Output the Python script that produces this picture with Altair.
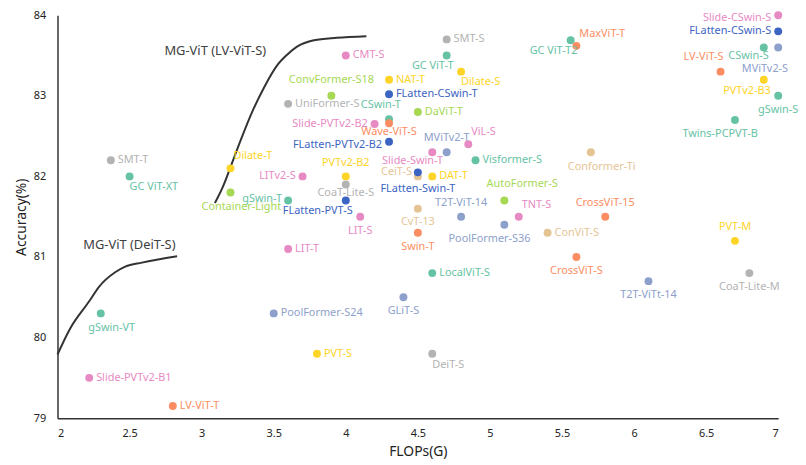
import altair as alt
import pandas as pd

# ---- data ----
names = [
    # teal
    "GC ViT-T", "CSwin-T", "Visformer-S", "gSwin-T", "LocalViT-S", "GC ViT-XT", "gSwin-VT",
    "GC ViT-T2", "CSwin-S", "gSwin-S", "Twins-PCPVT-B",
    # pink
    "CMT-S", "Slide-PVTv2-B2", "ViL-S", "Slide-Swin-T", "LITv2-S", "LIT-S", "TNT-S", "LIT-T",
    "Slide-PVTv2-B1", "Slide-CSwin-S",
    # blue-purple
    "MViTv2-T", "T2T-ViT-14", "PoolFormer-S36", "GLiT-S", "PoolFormer-S24", "MViTv2-S", "T2T-ViTt-14",
    # lime
    "ConvFormer-S18", "DaViT-T", "AutoFormer-S", "Container-Light",
    # yellow
    "NAT-T", "Dilate-S", "PVTv2-B2", "DAT-T", "Dilate-T", "PVT-S", "PVTv2-B3", "PVT-M",
    # tan
    "CeiT-S", "CvT-13", "Conformer-Ti", "ConViT-S",
    # gray
    "SMT-S", "UniFormer-S", "CoaT-Lite-S", "SMT-T", "DeiT-S", "CoaT-Lite-M",
    # orange
    "Wave-ViT-S", "Swin-T", "MaxViT-T", "LV-ViT-S", "CrossViT-15", "CrossViT-S", "LV-ViT-T",
    # dark blue
    "FLatten-CSwin-T", "FLatten-PVTv2-B2", "FLatten-Swin-T", "FLatten-PVT-S", "FLatten-CSwin-S",
]
flops = [
    4.7, 4.3, 4.9, 3.6, 4.6, 2.5, 2.3, 5.56, 6.9, 7.0, 6.7,
    4.0, 4.2, 4.85, 4.6, 3.7, 4.1, 5.2, 3.6, 2.22, 7.0,
    4.7, 4.8, 5.1, 4.4, 3.5, 7.0, 6.1,
    3.9, 4.5, 5.1, 3.2,
    4.3, 4.8, 4.0, 4.6, 3.2, 3.8, 6.9, 6.7,
    4.5, 4.5, 5.7, 5.4,
    4.7, 3.6, 4.0, 2.37, 4.6, 6.8,
    4.3, 4.5, 5.6, 6.6, 5.8, 5.6, 2.8,
    4.3, 4.3, 4.5, 4.0, 7.0,
]
accuracy = [
    83.5, 82.71, 82.2, 81.7, 80.8, 82.0, 80.3, 83.69, 83.6, 83.0, 82.7,
    83.5, 82.65, 82.4, 82.3, 82.0, 81.5, 81.5, 81.1, 79.5, 84.0,
    82.3, 81.5, 81.4, 80.5, 80.3, 83.6, 80.7,
    83.0, 82.8, 81.7, 81.8,
    83.2, 83.3, 82.0, 82.0, 82.1, 79.8, 83.2, 81.2,
    82.0, 81.6, 82.3, 81.3,
    83.7, 82.9, 81.9, 82.2, 79.8, 80.8,
    82.66, 81.3, 83.62, 83.3, 81.5, 81.0, 79.15,
    83.02, 82.43, 82.05, 81.7, 83.8,
]
groups = (["teal"] * 11 + ["pink"] * 10 + ["slate"] * 7 + ["lime"] * 4 + ["yellow"] * 8
          + ["tan"] * 4 + ["gray"] * 6 + ["orange"] * 7 + ["blue"] * 5)
# where each label sits relative to its dot (r=right, l=left, b=below, t=above, ...)
label_pos = [
    "bl", "tlR", "r", "lu", "r", "br", "bR", "bl", "bl9", "b", "bL",
    "r", "l", "tr", "bl9R", "l", "b", "tr", "r", "r", "ld",
    "t", "t", "bL", "b", "r", "bl2", "b",
    "t2", "r", "tR", "bR",
    "r", "br", "t", "r", "tr", "r", "bl", "t",
    "lu5", "b", "bR", "r",
    "r", "r", "bs", "r", "br", "b",
    "bs", "b", "tr", "tl", "t", "b", "r",
    "r", "ld", "bf", "bl", "l",
]

group_names = ["teal", "pink", "slate", "lime", "yellow", "tan", "gray", "orange", "blue"]
group_colors = ["#66c2a5", "#e78ac3", "#8da0cb", "#a6d854", "#fdd427", "#e5c494", "#b3b3b3", "#fc8d62", "#3b64c3"]

# MG-ViT curves
lv_x = [3.092, 3.147, 3.195, 3.271, 3.353, 3.435, 3.525, 3.593, 3.662, 3.779, 3.937, 4.143]
lv_y = [81.67, 81.87, 82.09, 82.45, 82.81, 83.11, 83.38, 83.51, 83.61, 83.69, 83.72, 83.74]
deit_x = [2.0, 2.087, 2.22, 2.288, 2.40, 2.47, 2.586, 2.83]
deit_y = [79.79, 80.11, 80.45, 80.63, 80.81, 80.88, 80.93, 81.01]

curve_labels = ["MG-ViT (LV-ViT-S)", "MG-ViT (DeiT-S)"]
curve_label_x = [2.742, 2.179]
curve_label_y = [83.55, 81.15]

x_ticks = [2, 2.5, 3, 3.5, 4, 4.5, 5, 5.5, 6, 6.5, 7]
y_ticks = [79, 80, 81, 82, 83, 84]

# ---- chart ----
df = pd.DataFrame({"name": names, "flops": flops, "acc": accuracy, "group": groups, "pos": label_pos})
curves = pd.concat([
    pd.DataFrame({"flops": lv_x, "acc": lv_y, "curve": "lv"}),
    pd.DataFrame({"flops": deit_x, "acc": deit_y, "curve": "deit"}),
])
cl = pd.DataFrame({"label": curve_labels, "flops": curve_label_x, "acc": curve_label_y})

FONT = "Noto Sans"
xs = alt.Scale(domain=[2, 7], nice=False, zero=False)
ys = alt.Scale(domain=[79, 84], nice=False, zero=False)
X = alt.X("flops:Q", scale=xs, axis=alt.Axis(values=x_ticks, format="~g", title="FLOPs(G)",
                                              grid=False, ticks=False, labelPadding=10, titlePadding=6))
Y = alt.Y("acc:Q", scale=ys, axis=alt.Axis(values=y_ticks, format="d", title="Accuracy(%)",
                                            grid=False, ticks=False, labelPadding=12, titlePadding=5))
C = alt.Color("group:N", scale=alt.Scale(domain=group_names, range=group_colors), legend=None)

lines = alt.Chart(curves).mark_line(color="#333333", strokeWidth=2, interpolate="monotone").encode(
    x=X, y=Y, detail="curve:N", order="flops:Q")

curve_text = alt.Chart(cl).mark_text(align="left", font=FONT, fontSize=13, color="#404040").encode(
    x="flops:Q", y="acc:Q", text="label:N")

points = alt.Chart(df).mark_circle(size=64, opacity=1).encode(x="flops:Q", y="acc:Q", color=C)

placements = {
    "r": ("left", 7, 0),
    "l": ("right", -7, 0),
    "lu": ("right", -6, -2),
    "lu5": ("right", -6, -4),
    "ld": ("right", -7, 3),
    "b": ("center", 0, 14),
    "bs": ("center", 0, 9),
    "bf": ("center", 0, 17),
    "bR": ("center", 11, 15),
    "bL": ("center", -15, 14),
    "t": ("center", 0, -14),
    "t2": ("center", 0, -16),
    "tR": ("center", 18, -17),
    "br": ("left", 0, 11),
    "bl": ("right", 7, 11),
    "bl9": ("right", 5, 9),
    "bl9R": ("right", 11, 9),
    "bl2": ("right", 10, 22),
    "tr": ("left", 3, -12),
    "tl": ("right", 3, -15),
    "tlR": ("right", 12, -14),
}
text_layers = []
for code, (al, dx, dy) in placements.items():
    text_layers.append(
        alt.Chart(df).transform_filter(alt.datum.pos == code)
        .mark_text(align=al, dx=dx, dy=dy, font=FONT, fontSize=11)
        .encode(x="flops:Q", y="acc:Q", text="name:N", color=C)
    )

chart = alt.layer(lines, curve_text, points, *text_layers).properties(
    width=728, height=407,
    autosize=alt.AutoSizeParams(type="none"),
    padding={"left": 50, "top": 5, "right": 20, "bottom": 43},
).configure_view(stroke=None).configure_axis(
    domainColor="#333333", domainWidth=1.5, labelFont=FONT, labelFontSize=11, labelColor="#222222",
    titleFont=FONT, titleFontSize=14, titleFontWeight="normal", titleColor="#222222",
)

chart.save("out.html", embed_options={"renderer": "svg", "actions": False})
